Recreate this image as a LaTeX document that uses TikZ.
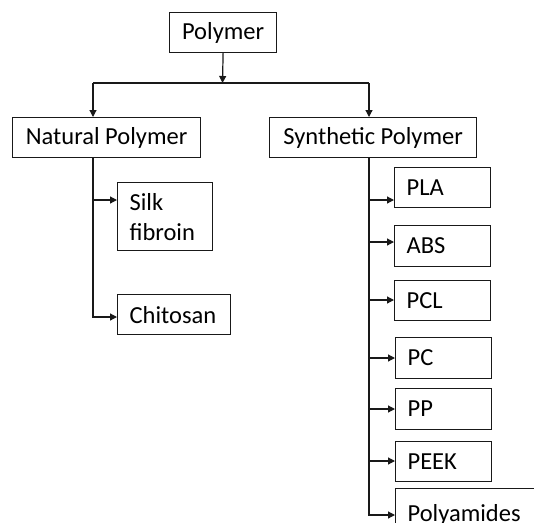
\documentclass[tikz,border=0pt]{standalone}
\usepackage{fontspec}
\setmainfont{Carlito}
\usetikzlibrary{arrows.meta}
\begin{document}
\begin{tikzpicture}[x=1pt,y=-1pt,
  every node/.style={font=\fontsize{24.5}{30}\selectfont},
  box/.style={draw=black!90, line width=1.2pt, inner xsep=12pt, inner ysep=0pt,
              anchor=north west, minimum height=40pt, align=left},
  cbox/.style={draw=black!90, line width=1.2pt, inner sep=0pt,
              anchor=north west, minimum height=40pt},
  conn/.style={draw=black!90, line width=1.2pt},
  arr/.style={conn, -{Triangle[length=7pt,width=7pt]}}]
\useasboundingbox (0,0) rectangle (534,522);
\clip (0,0) rectangle (534,522);
% nodes
\node[cbox, minimum width=107pt] (poly) at (169,12) {Polymer};
\node[cbox, minimum width=188pt] (nat) at (12,117) {Natural Polymer};
\node[cbox, minimum width=207pt] (syn) at (269,117) {Synthetic Polymer};
\node[box, text width=71pt, minimum height=68pt] (silk) at (117,182) {Silk\\fibroin};
\node[box, text width=89pt] (chit) at (117,294) {Chitosan};
\node[box, text width=72pt] (pla) at (394,167) {PLA};
\node[box, text width=72pt, minimum height=41pt] (abs) at (394,225) {ABS};
\node[box, text width=72pt] (pcl) at (394,280) {PCL};
\node[box, text width=72pt, minimum height=41pt] (pc) at (395,337) {PC};
\node[box, text width=72pt, minimum height=41pt] (pp) at (395,388) {PP};
\node[box, text width=72pt] (peek) at (395,441) {PEEK};
\node[box, text width=136pt, minimum height=53pt] (pam) at (395,488) {Polyamides};
% connector coordinates
\coordinate (bj) at (222.5,83);
\coordinate (nl) at (93,83);
\coordinate (sr) at (369,83);
\coordinate (n1) at (93,200);
\coordinate (n2) at (93,317);
\coordinate (s1) at (369,200);
\coordinate (s2) at (369,242);
\coordinate (s3) at (369,300);
\coordinate (s4) at (369,358);
\coordinate (s5) at (369,409);
\coordinate (s6) at (369,461);
\coordinate (s7) at (369,515);
% connectors
\draw[arr] (poly.south) -- (bj);
\draw[conn] (nl) -- (sr);
\draw[arr] (nl) -- (nl |- nat.north);
\draw[arr] (sr) -- (sr |- syn.north);
\draw[arr] (nat.south -| n2) -- (n2) -- (n2 -| chit.west);
\draw[arr] (n1) -- (n1 -| silk.west);
\draw[arr] (syn.south -| s7) -- (s7) -- (s7 -| pam.west);
\draw[arr] (s1) -- (s1 -| pla.west);
\draw[arr] (s2) -- (s2 -| abs.west);
\draw[arr] (s3) -- (s3 -| pcl.west);
\draw[arr] (s4) -- (s4 -| pc.west);
\draw[arr] (s5) -- (s5 -| pp.west);
\draw[arr] (s6) -- (s6 -| peek.west);
\end{tikzpicture}
\end{document}
